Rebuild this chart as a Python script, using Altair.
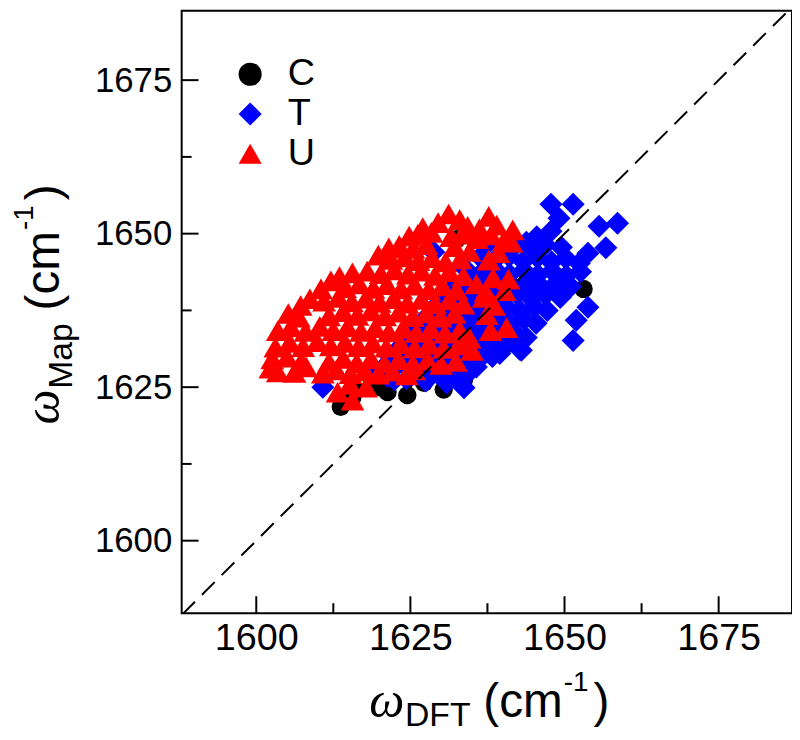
import altair as alt
import pandas as pd

# ---------------- data ----------------
# C : black circles
c_dft = [1613.7, 1615.6, 1616.0, 1618.5, 1620.1, 1621.3, 1624.5, 1627.2, 1630.4, 1633.0,
         1633.7, 1632.5, 1637.8, 1653.1, 1640.9, 1625.0, 1635.0, 1640.0]
c_map = [1621.8, 1623.4, 1624.6, 1626.7, 1625.0, 1624.2, 1623.7, 1625.7, 1624.6, 1626.7,
         1626.2, 1649.1, 1648.8, 1641.0, 1632.1, 1630.0, 1636.0, 1641.0]

# T : blue diamonds
t_dft = [1647.8, 1651.4, 1649.1, 1647.8, 1655.6, 1658.6, 1653.8, 1656.7, 1653.8, 1651.9, 1651.4, 1643.0,
         1645.5, 1643.8, 1637.5, 1640.0, 1642.3, 1644.6, 1646.9, 1649.5,
         1628.8, 1636.3, 1638.6, 1641.0, 1643.3, 1645.6, 1647.9, 1650.2, 1652.4,
         1634.0, 1636.4, 1638.8, 1641.1, 1643.4, 1645.7, 1648.0, 1650.3, 1652.6,
         1632.3, 1634.7, 1637.0, 1639.3, 1641.7, 1644.0, 1646.3, 1648.6, 1651.0,
         1630.5, 1632.9, 1635.3, 1637.6, 1640.0, 1642.3, 1644.6, 1646.9, 1649.3,
         1628.7, 1631.1, 1633.5, 1635.9, 1638.2, 1640.5, 1642.8, 1645.1, 1647.2,
         1627.0, 1629.4, 1631.8, 1634.2, 1636.5, 1638.8, 1641.1, 1643.4, 1645.4,
         1625.3, 1627.7, 1630.1, 1632.5, 1634.8, 1637.1, 1639.4, 1641.7, 1643.8,
         1623.6, 1626.0, 1628.4, 1630.8, 1633.1, 1635.4, 1637.7, 1640.0, 1642.7,
         1621.9, 1624.3, 1626.7, 1629.1, 1631.4, 1633.7, 1636.0, 1638.3, 1639.5,
         1620.2, 1622.6, 1625.0, 1627.4, 1629.8, 1632.1, 1634.6, 1635.7,
         1610.8, 1621.3, 1624.5, 1627.5, 1630.9, 1632.5, 1633.7, 1622.4]
t_map = [1654.8, 1654.8, 1652.5, 1650.4, 1651.2, 1651.7, 1646.8, 1647.7, 1638.0, 1635.9, 1632.6, 1631.0,
         1649.5, 1648.6, 1648.3, 1647.8, 1648.4, 1647.6, 1648.2, 1647.8,
         1647.0, 1646.2, 1645.6, 1646.3, 1645.5, 1646.1, 1645.4, 1646.0, 1645.2,
         1644.2, 1643.5, 1644.1, 1643.4, 1644.0, 1643.3, 1643.9, 1643.2, 1643.8,
         1641.6, 1642.2, 1641.5, 1642.1, 1641.4, 1642.0, 1641.3, 1641.9, 1641.4,
         1639.8, 1640.3, 1639.6, 1640.2, 1639.5, 1640.1, 1639.4, 1640.0, 1639.6,
         1637.8, 1638.3, 1637.6, 1638.2, 1637.5, 1638.1, 1637.4, 1638.0, 1637.5,
         1635.8, 1636.3, 1635.6, 1636.2, 1635.5, 1636.1, 1635.4, 1636.0, 1635.4,
         1633.8, 1634.3, 1633.6, 1634.2, 1633.5, 1634.1, 1633.4, 1634.0, 1633.1,
         1631.8, 1632.3, 1631.6, 1632.2, 1631.5, 1632.1, 1631.4, 1632.0, 1631.2,
         1629.8, 1630.3, 1629.6, 1630.2, 1629.5, 1630.1, 1629.4, 1630.0, 1630.5,
         1627.8, 1628.3, 1627.6, 1628.2, 1627.3, 1628.0, 1627.5, 1628.3,
         1625.0, 1626.7, 1626.2, 1626.0, 1625.7, 1626.7, 1624.9, 1626.2]

# U : red triangles
u_dft = [1631.2, 1637.7, 1633.0,
         1629.5, 1634.3, 1636.2, 1639.0, 1641.6, 1627.0,
         1624.8, 1626.2, 1628.4, 1631.6, 1633.4, 1635.8, 1638.1, 1640.2, 1641.4,
         1621.5, 1623.2, 1625.5, 1627.6, 1632.2, 1634.6, 1639.3,
         1619.8, 1621.9, 1624.1, 1626.3, 1628.5, 1630.7, 1633.1, 1637.7,
         1613.5, 1615.6, 1618.0, 1620.2, 1622.4, 1624.6, 1626.8, 1629.0, 1631.3, 1633.6, 1638.4, 1640.9,
         1612.1, 1610.5, 1614.4, 1616.7, 1619.0, 1621.2, 1623.5, 1625.7, 1628.0, 1630.2, 1632.5, 1635.7, 1637.2, 1640.3,
         1608.7, 1611.0, 1613.3, 1615.5, 1617.8, 1620.0, 1622.3, 1624.5, 1626.8, 1629.0, 1631.3, 1633.6, 1638.6,
         1605.2, 1607.2, 1606.9, 1611.8, 1614.1, 1616.4, 1618.6, 1620.9, 1623.1, 1625.4, 1627.6, 1629.9, 1632.2, 1637.4,
         1603.5, 1605.6, 1608.0, 1610.3, 1612.5, 1614.8, 1617.0, 1619.3, 1621.5, 1623.8, 1626.0, 1628.3, 1630.6, 1633.0, 1638.0, 1640.6,
         1603.1, 1605.4, 1607.6, 1609.9, 1612.1, 1614.4, 1616.6, 1618.9, 1621.1, 1623.4, 1625.7, 1628.0, 1630.4, 1632.8, 1634.6, 1635.0,
         1602.6, 1605.0, 1607.3, 1611.8, 1614.1, 1616.3, 1618.6, 1620.8, 1623.1, 1625.4, 1627.8, 1630.0, 1632.4,
         1602.3, 1603.5, 1606.2, 1608.1, 1610.8, 1613.0, 1615.3, 1617.6, 1619.8, 1622.1, 1624.4, 1625.6,
         1613.2, 1615.6, 1615.2, 1617.8, 1636.9]
u_map = [1653.2, 1652.8, 1652.3,
         1651.8, 1651.2, 1650.8, 1651.4, 1650.6, 1651.0,
         1649.6, 1649.9, 1650.2, 1649.5, 1649.9, 1649.2, 1649.8, 1648.9, 1648.6,
         1647.7, 1648.1, 1647.6, 1648.2, 1647.9, 1647.1, 1646.9,
         1646.5, 1645.8, 1646.2, 1645.6, 1646.1, 1645.4, 1645.9, 1645.7,
         1643.0, 1643.6, 1643.9, 1643.5, 1644.1, 1643.4, 1643.9, 1643.2, 1643.8, 1643.1, 1642.8, 1642.6,
         1642.3, 1641.0, 1641.2, 1641.8, 1641.1, 1641.7, 1641.0, 1641.6, 1640.9, 1641.5, 1640.8, 1641.8, 1640.6, 1640.7,
         1639.4, 1639.0, 1639.6, 1638.9, 1639.5, 1638.8, 1639.4, 1638.7, 1639.3, 1638.6, 1639.2, 1638.5, 1638.3,
         1637.0, 1638.3, 1636.4, 1636.6, 1637.3, 1636.7, 1637.4, 1636.6, 1637.2, 1636.5, 1637.1, 1636.4, 1637.0, 1636.8,
         1634.2, 1634.8, 1634.1, 1634.9, 1634.2, 1634.8, 1634.1, 1634.7, 1634.0, 1634.6, 1633.9, 1634.5, 1633.8, 1634.3, 1634.2, 1634.7,
         1631.5, 1632.3, 1631.6, 1632.4, 1631.7, 1632.3, 1631.6, 1632.2, 1631.5, 1632.1, 1631.4, 1632.0, 1631.3, 1631.9, 1633.0, 1631.0,
         1629.6, 1629.9, 1629.2, 1629.1, 1629.7, 1629.0, 1629.6, 1628.9, 1629.5, 1628.8, 1629.4, 1628.7, 1629.2,
         1628.1, 1627.5, 1627.4, 1628.3, 1627.3, 1627.8, 1627.2, 1627.7, 1627.1, 1627.6, 1627.0, 1627.8,
         1624.2, 1622.9, 1625.5, 1625.0, 1639.6]

categories = ["C", "T", "U"]
colors = ["#000000", "#0000ff", "#ff0000"]
shapes = ["circle", "diamond", "triangle-up"]
major_ticks = [1600, 1625, 1650, 1675]
minor_ticks = [1612.5, 1637.5, 1662.5]
diag_vals = [1588, 1690]

# ---------------- build ----------------
W, H = 615, 607
xscale = alt.Scale(domain=[1587.9, 1686.9], nice=False, zero=False)
yscale = alt.Scale(domain=[1588.2, 1686.3], nice=False, zero=False)
xaxis = alt.Axis(values=major_ticks, ticks=False, domain=False, grid=False, title=None,
                 labelFontSize=38, labelFont="Liberation Sans", labelColor="black",
                 labelPadding=7, labelFlush=False, labelOverlap=False, format="d")
yaxis = alt.Axis(values=major_ticks, ticks=False, domain=False, grid=False, title=None,
                 labelFontSize=35, labelFont="Liberation Sans", labelColor="black",
                 labelPadding=10, labelFlush=False, labelOverlap=False, format="d")

leg = alt.Legend(orient="none", legendX=50, legendY=45, title=None, labelFontSize=38,
                 labelFont="Liberation Sans", labelColor="black", symbolSize=540,
                 symbolStrokeWidth=0, rowPadding=2, labelOffset=19, padding=0,
                 symbolOpacity=1)
color_enc = alt.Color("set:N", scale=alt.Scale(domain=categories, range=colors), legend=leg)
shape_enc = alt.Shape("set:N", scale=alt.Scale(domain=categories, range=shapes), legend=leg)


def series(cat, xs, ys, size):
    df = pd.DataFrame({"dft": xs, "map": ys, "set": [cat] * len(xs)})
    return alt.Chart(df).mark_point(filled=True, opacity=1, strokeWidth=0, size=size).encode(
        x=alt.X("dft:Q", scale=xscale, axis=xaxis),
        y=alt.Y("map:Q", scale=yscale, axis=yaxis),
        color=color_enc, shape=shape_enc)


diag = alt.Chart(pd.DataFrame({"dft": diag_vals, "map": diag_vals})).mark_line(
    color="black", strokeWidth=2, strokeDash=[18, 10], clip=True).encode(
    x=alt.X("dft:Q", scale=xscale, axis=xaxis),
    y=alt.Y("map:Q", scale=yscale, axis=yaxis))


def xticks(vals, length):
    return alt.Chart(pd.DataFrame({"dft": vals})).mark_rule(color="black", strokeWidth=2).encode(
        x=alt.X("dft:Q", scale=xscale, axis=xaxis), y=alt.value(H), y2=alt.value(H - length))


def yticks(vals, length):
    return alt.Chart(pd.DataFrame({"map": vals})).mark_rule(color="black", strokeWidth=2).encode(
        y=alt.Y("map:Q", scale=yscale, axis=yaxis), x=alt.value(0), x2=alt.value(length))


def label(text, x, y, size, font="Liberation Sans", style="normal", angle=0):
    return alt.Chart(pd.DataFrame({"t": [text]})).mark_text(
        align="left", baseline="alphabetic", fontSize=size, font=font, fontStyle=style,
        angle=angle, color="black").encode(text="t:N", x=alt.value(x), y=alt.value(y))


titles = [
    label("ω", 189, 712, 50, font="Liberation Serif", style="italic"),
    label("DFT", 225, 721, 34),
    label("(cm", 304, 712, 48),
    label("-1", 385, 685, 28),
    label(")", 415, 712, 48),
    label("ω", -124, 417, 50, font="Liberation Serif", style="italic", angle=270),
    label("Map", -111, 381, 34, angle=270),
    label("(cm", -124, 302, 48, angle=270),
    label("-1", -150, 221, 28, angle=270),
    label(")", -124, 191, 48, angle=270),
]

chart = alt.layer(
    series("C", c_dft, c_map, 340),
    series("T", t_dft, t_map, 540),
    series("U", u_dft, u_map, 580),
    diag,
    xticks(major_ticks, 17), xticks(minor_ticks, 10),
    yticks(major_ticks, 17), yticks(minor_ticks, 10),
    *titles
).properties(
    width=W, height=H,
    autosize=alt.AutoSizeParams(type="none"),
    padding={"left": 175, "top": 0, "right": 0, "bottom": 117},
).configure_view(stroke="black", strokeWidth=2)

chart.save("out.html", embed_options={"renderer": "svg", "actions": False})
